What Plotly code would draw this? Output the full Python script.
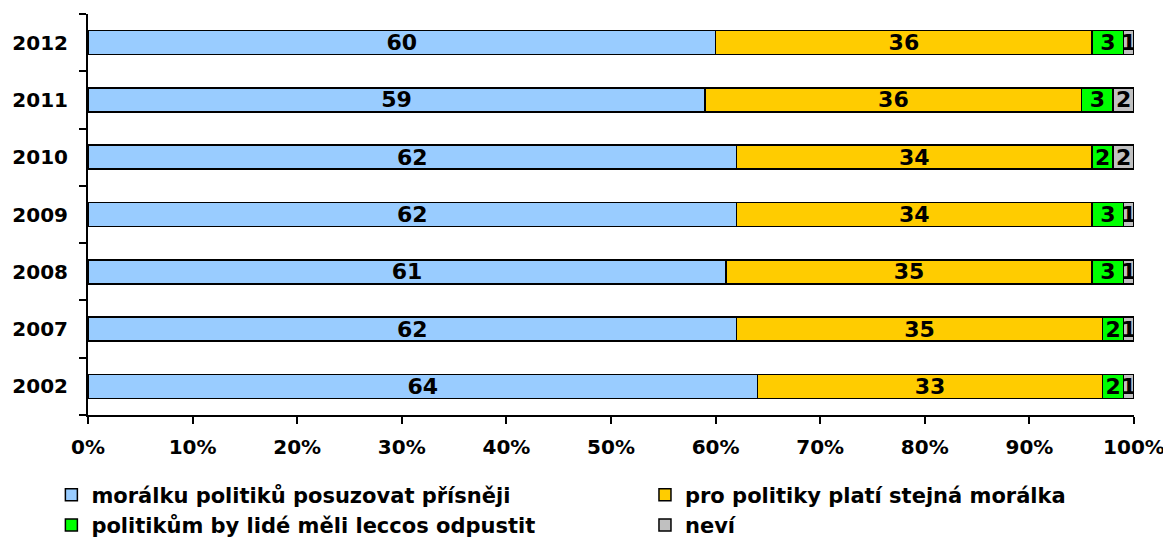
import plotly.graph_objects as go

years = ["2002", "2007", "2008", "2009", "2010", "2011", "2012"]
prisneji = [64, 62, 61, 62, 62, 59, 60]
stejna = [33, 35, 35, 34, 34, 36, 36]
odpustit = [2, 2, 3, 3, 2, 3, 3]
nevi = [1, 1, 1, 1, 2, 2, 1]

series = [
    ("morálku politiků posuzovat přísněji", prisneji, "#99CCFF", "legend"),
    ("pro politiky platí stejná morálka", stejna, "#FFCC00", "legend2"),
    ("politikům by lidé měli leccos odpustit", odpustit, "#00FF00", "legend"),
    ("neví", nevi, "#C0C0C0", "legend2"),
]

FONT = "DejaVu Sans"
fig = go.Figure()
for i, (name, vals, col, leg) in enumerate(series):
    fig.add_trace(go.Bar(
        y=years, x=vals, name=name, orientation="h", legend=leg,
        legendgroup=f"g{i}",
        marker=dict(color=col, line=dict(color="black", width=1.5)),
        text=[str(v) for v in vals], textposition="inside",
        insidetextanchor="middle", textangle=0, constraintext="none",
        textfont=dict(family=FONT, size=22, color="black", weight="bold"),
    ))

legfont = dict(family=FONT, size=21, color="black", weight="bold")
fig.update_layout(
    barmode="stack", bargap=0.58,
    width=1163, height=530,
    margin=dict(l=80, r=37, t=6, b=123, autoexpand=False),
    plot_bgcolor="white", paper_bgcolor="white",
    font=dict(family=FONT, color="black", weight="bold"),
    showlegend=True,
    legend=dict(orientation="v", xref="container", yref="container",
                x=0.0373, xanchor="left", y=0.1195, yanchor="top",
                traceorder="normal", font=legfont, tracegroupgap=6,
                bgcolor="rgba(0,0,0,0)"),
    legend2=dict(orientation="v", xref="container", yref="container",
                 x=0.5477, xanchor="left", y=0.1195, yanchor="top",
                 traceorder="normal", font=legfont, tracegroupgap=6,
                 bgcolor="rgba(0,0,0,0)"),
)
fig.update_xaxes(range=[0, 100], tickvals=list(range(0, 101, 10)),
                 ticktext=[f"{v}%" for v in range(0, 101, 10)],
                 showline=True, linecolor="black", linewidth=2, ticks="outside",
                 ticklen=7, tickwidth=2, tickcolor="black", showgrid=False, zeroline=False,
                 ticklabelstandoff=6,
                 tickfont=dict(family=FONT, size=20, color="black", weight="bold"))
fig.update_yaxes(type="category", categoryorder="array", categoryarray=years,
                 showline=True, linecolor="black", linewidth=2, ticks="outside",
                 tickson="boundaries", ticklen=7, tickwidth=2, tickcolor="black",
                 showgrid=False, zeroline=False, ticklabelstandoff=14,
                 tickfont=dict(family=FONT, size=20, color="black", weight="bold"))

fig.write_html("out.html")
